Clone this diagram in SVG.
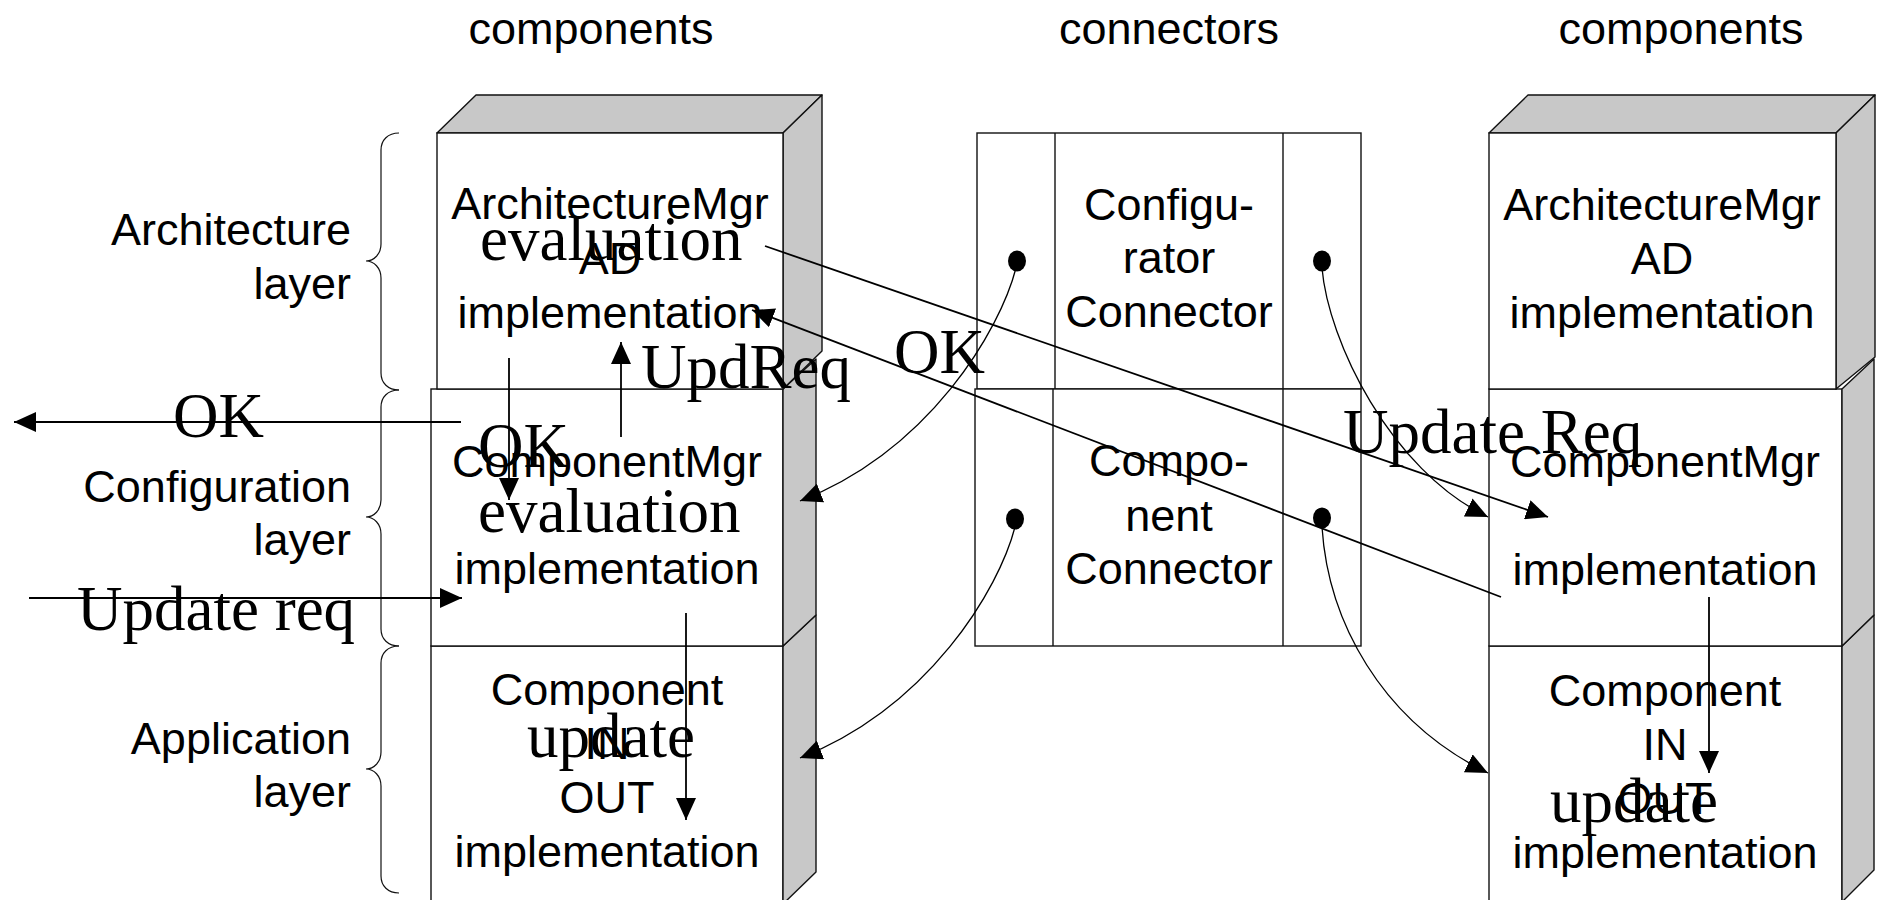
<svg xmlns="http://www.w3.org/2000/svg" width="1881" height="900" viewBox="0 0 1881 900">
  <style>
    .face { fill: #ffffff; stroke: #111111; stroke-width: 1.4; }
    .shade { fill: #c8c8c8; stroke: #111111; stroke-width: 1.4; stroke-linejoin: round; }
    .frame { fill: #ffffff; stroke: #111111; stroke-width: 1.4; }
    .sans { font-family: "Liberation Sans", Arial, sans-serif; font-size: 45px; fill: #000000; }
    .mid { text-anchor: middle; }
    .end { text-anchor: end; }
    .serif { font-family: "Liberation Serif", "Times New Roman", serif; font-size: 63px; fill: #000000; }
    .brace { fill: none; stroke: #111111; stroke-width: 1.2; }
    .flow { fill: none; stroke: #000000; stroke-width: 1.8; }
    .bend { fill: none; stroke: #000000; stroke-width: 1.3; }
    .dot { fill: #000000; }
  </style>
  <defs>
    <marker id="ah" viewBox="0 0 22 20" refX="22" refY="10" markerWidth="22" markerHeight="20" markerUnits="userSpaceOnUse" orient="auto">
      <path d="M0,0 L22,10 L0,20 z" fill="#000000"/>
    </marker>
  </defs>

  <rect width="1881" height="900" fill="#ffffff"/>

  <!-- column headings -->
  <g id="headings">
    <text class="sans mid" x="591" y="44">components</text>
    <text class="sans mid" x="1169" y="44">connectors</text>
    <text class="sans mid" x="1681" y="44">components</text>
  </g>

  <!-- layer labels with braces -->
  <g id="layer-architecture">
    <path class="brace" d="M399,133 C388,133 381,140 381,150 L381,244 C381,254 374,261 366,261 C374,261 381,268 381,278 L381,373 C381,383 388,390 399,390"/>
    <text class="sans end" x="351" y="245">Architecture</text>
    <text class="sans end" x="351" y="299">layer</text>
  </g>
  <g id="layer-configuration">
    <path class="brace" d="M399,390 C388,390 381,397 381,407 L381,500 C381,510 374,517 366,517 C374,517 381,524 381,534 L381,629 C381,639 388,646 399,646"/>
    <text class="sans end" x="351" y="502">Configuration</text>
    <text class="sans end" x="351" y="555">layer</text>
  </g>
  <g id="layer-application">
    <path class="brace" d="M399,646 C388,646 381,653 381,663 L381,752 C381,762 374,769 366,769 C374,769 381,776 381,786 L381,876 C381,886 388,893 399,893"/>
    <text class="sans end" x="351" y="754">Application</text>
    <text class="sans end" x="351" y="807">layer</text>
  </g>

  <!-- left component stack -->
  <g id="left-component-app">
    <rect class="face" x="431" y="646" width="352" height="262"/>
    <polygon class="shade" points="783,646 816,615 816,872 783,904"/>
    <text class="sans mid" x="607" y="705">Component</text>
    <text class="sans mid" x="607" y="759">IN</text>
    <text class="sans mid" x="607" y="813">OUT</text>
    <text class="sans mid" x="607" y="867">implementation</text>
  </g>
  <g id="left-component-config">
    <rect class="face" x="431" y="389" width="352" height="257"/>
    <polygon class="shade" points="783,389 816,359 816,615 783,646"/>
    <text class="sans mid" x="607" y="477">ComponentMgr</text>
    <text class="sans mid" x="607" y="584">implementation</text>
  </g>
  <g id="left-component-arch">
    <polygon class="shade" points="437,133 476,95 822,95 783,133"/>
    <polygon class="shade" points="783,133 822,95 822,351 783,389"/>
    <rect class="face" x="437" y="133" width="346" height="256"/>
    <text class="sans mid" x="610" y="219">ArchitectureMgr</text>
    <text class="sans mid" x="610" y="274">AD</text>
    <text class="sans mid" x="610" y="328">implementation</text>
  </g>

  <!-- connectors column -->
  <g id="configurator-connector">
    <rect class="frame" x="977" y="133" width="384" height="256"/>
    <line class="frame" x1="1055" y1="133" x2="1055" y2="389"/>
    <line class="frame" x1="1283" y1="133" x2="1283" y2="389"/>
    <ellipse class="dot" cx="1017" cy="261" rx="9" ry="10.5"/>
    <ellipse class="dot" cx="1322" cy="261" rx="9" ry="10.5"/>
    <text class="sans mid" x="1169" y="220">Configu-</text>
    <text class="sans mid" x="1169" y="273">rator</text>
    <text class="sans mid" x="1169" y="327">Connector</text>
  </g>
  <g id="component-connector">
    <rect class="frame" x="975" y="389" width="386" height="257"/>
    <line class="frame" x1="1053" y1="389" x2="1053" y2="646"/>
    <line class="frame" x1="1283" y1="389" x2="1283" y2="646"/>
    <ellipse class="dot" cx="1015" cy="519" rx="9" ry="10.5"/>
    <ellipse class="dot" cx="1322" cy="518" rx="9" ry="10.5"/>
    <text class="sans mid" x="1169" y="476">Compo-</text>
    <text class="sans mid" x="1169" y="531">nent</text>
    <text class="sans mid" x="1169" y="584">Connector</text>
  </g>

  <!-- right component stack -->
  <g id="right-component-app">
    <rect class="face" x="1489" y="646" width="353" height="262"/>
    <polygon class="shade" points="1842,646 1874,615 1874,870 1842,902"/>
    <text class="sans mid" x="1665" y="706">Component</text>
    <text class="sans mid" x="1665" y="760">IN</text>
    <text class="sans mid" x="1665" y="814">OUT</text>
    <text class="sans mid" x="1665" y="868">implementation</text>
  </g>
  <g id="right-component-config">
    <rect class="face" x="1489" y="389" width="353" height="257"/>
    <polygon class="shade" points="1842,389 1874,359 1874,615 1842,646"/>
    <text class="sans mid" x="1665" y="477">ComponentMgr</text>
    <text class="sans mid" x="1665" y="585">implementation</text>
  </g>
  <g id="right-component-arch">
    <polygon class="shade" points="1489,133 1528,95 1875,95 1836,133"/>
    <polygon class="shade" points="1836,133 1875,95 1875,357 1836,389"/>
    <rect class="face" x="1489" y="133" width="347" height="256"/>
    <text class="sans mid" x="1662" y="220">ArchitectureMgr</text>
    <text class="sans mid" x="1662" y="274">AD</text>
    <text class="sans mid" x="1662" y="328">implementation</text>
  </g>

  <!-- message flows -->
  <g id="connections">
    <path class="flow" d="M461,422 L14,422" marker-end="url(#ah)"/>
    <path class="flow" d="M29,598 L462,598" marker-end="url(#ah)"/>
    <path class="flow" d="M509,358 L509,500" marker-end="url(#ah)"/>
    <path class="flow" d="M621,437 L621,342" marker-end="url(#ah)"/>
    <path class="flow" d="M686,613 L686,820" marker-end="url(#ah)"/>
    <path class="flow" d="M765,246 L1548,517" marker-end="url(#ah)"/>
    <path class="flow" d="M1501,597 L752,310" marker-end="url(#ah)"/>
    <path class="flow" d="M1709,597 L1709,773" marker-end="url(#ah)"/>
    <path class="bend" d="M1016,268 C1000,330 930,450 800,501" marker-end="url(#ah)"/>
    <path class="bend" d="M1015,527 C999,589 929,707 800,758" marker-end="url(#ah)"/>
    <path class="bend" d="M1322,268 C1328,340 1390,470 1488,517" marker-end="url(#ah)"/>
    <path class="bend" d="M1322,527 C1328,620 1380,720 1488,773" marker-end="url(#ah)"/>
  </g>

  <!-- flow labels -->
  <g id="flow-labels">
    <text class="serif" x="173" y="437">OK</text>
    <text class="serif" x="77" y="630">Update req</text>
    <text class="serif" x="480" y="260">evaluation</text>
    <text class="serif" x="641" y="388">UpdReq</text>
    <text class="serif" x="478" y="467">OK</text>
    <text class="serif" x="478" y="532">evaluation</text>
    <text class="serif" x="527" y="757">update</text>
    <text class="serif" x="894" y="373">OK</text>
    <text class="serif" x="1343" y="453">Update Req</text>
    <text class="serif" x="1550" y="822">update</text>
  </g>
</svg>
